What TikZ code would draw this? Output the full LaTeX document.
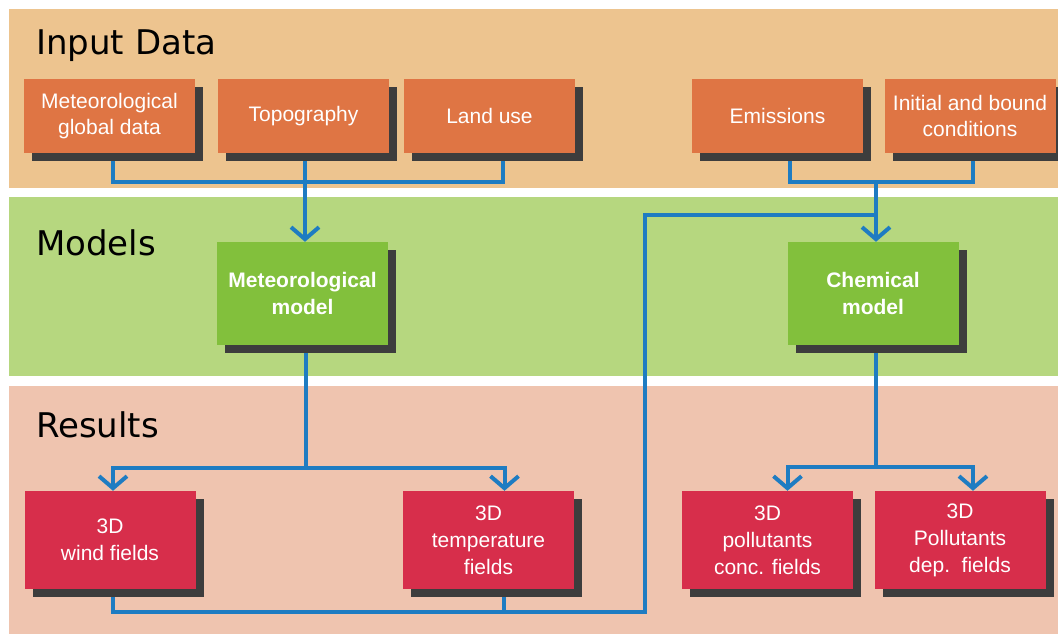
\documentclass[tikz,border=0pt]{standalone}
\usepackage{fontspec}
\setmainfont{Liberation Sans}
\newfontfamily\headfont{DejaVu Sans}
\usetikzlibrary{arrows.meta,shadows,backgrounds}

\definecolor{inband}{RGB}{237,196,143}
\definecolor{modband}{RGB}{182,215,127}
\definecolor{resband}{RGB}{239,196,175}
\definecolor{inorange}{RGB}{223,117,68}
\definecolor{modgreen}{RGB}{130,192,60}
\definecolor{resred}{RGB}{215,46,75}
\definecolor{boxshadow}{RGB}{61,61,61}
\definecolor{linkblue}{RGB}{30,124,194}

\tikzset{
  box/.style={inner sep=0pt, align=center, text=white, font=\fontsize{21}{26}\selectfont,
    general shadow={fill=boxshadow, shadow xshift=8pt, shadow yshift=-8pt}},
  inbox/.style={box, fill=inorange, minimum width=171pt, minimum height=74pt},
  modbox/.style={box, fill=modgreen, minimum width=171pt, minimum height=103pt,
    font=\fontsize{21}{27}\selectfont\bfseries},
  resbox/.style={box, fill=resred, minimum width=171pt, minimum height=98pt,
    font=\fontsize{21}{27}\selectfont},
  link/.style={draw=linkblue, line width=4pt, >={Straight Barb[length=12pt,width=28pt]}},
  head/.style={anchor=base west, inner sep=0pt, font=\headfont\fontsize{34}{40}\selectfont},
}

\begin{document}
\begin{tikzpicture}[x=1pt,y=-1pt]
\useasboundingbox (0,0) rectangle (1058,634);
% bands
\begin{scope}[on background layer]
  \fill[inband] (9,9) rectangle (1058,188);
  \fill[modband] (9,197) rectangle (1058,376);
  \fill[resband] (9,386) rectangle (1058,634);
\end{scope}
% headings
\foreach \y/\n/\t in {55/hinput/Input Data, 255/hmodels/Models, 437/hresults/Results}
  \node[head] (\n) at (36,\y) {\t};
% boxes
\foreach \x/\n/\t in {109.5/metdata/{Meteorological\\global data}, 303.5/topo/Topography, 489.5/landuse/Land use, 777.5/emis/Emissions, 970/bound/{Initial and bound\\conditions}}
  \node[inbox] (\n) at (\x,116) {\t};
\foreach \x/\n/\t in {302.5/metmodel/{Meteorological\\model}, 873/chemmodel/{Chemical\\model}}
  \node[modbox] (\n) at (\x,293.5) {\t};
\foreach \x/\n/\t in {110/wind/{3D\\wind fields}, 488.5/temp/{3D\\temperature\\fields}, 767.5/conc/{3D\\pollutants\\conc. fields}, 960/dep/{3D\\Pollutants\\dep.\ \ fields}}
  \node[resbox] (\n) at (\x,540) {\t};
% connectors
\coordinate (fbturn) at (645,612);
\coordinate (fbtop) at (645,215);
\begin{scope}[on background layer]
  \draw[link] ([xshift=3.5pt]metdata.south) -- ++(0,29) -| ([xshift=13.5pt]landuse.south);
  \draw[link,->] ([xshift=1.5pt]topo.south) -- ([xshift=1.5pt]topo.south |- metmodel.north);
  \draw[link] ([xshift=12.5pt]emis.south) -- ++(0,29) coordinate (injoin) -| ([xshift=3pt]bound.south);
  \draw[link,->] ([xshift=3pt]injoin -| chemmodel.north) -- ([xshift=3pt]chemmodel.north);
  \draw[link] ([xshift=3pt]metmodel.south) -- ++(0,123) coordinate (metjoin);
  \draw[link,->] (metjoin) -| ([xshift=3pt]wind.north);
  \draw[link,->] (metjoin) -| ([xshift=16pt]temp.north);
  \draw[link] ([xshift=3pt]chemmodel.south) -- ++(0,122) coordinate (chemjoin);
  \draw[link,->] (chemjoin) -| ([xshift=20pt]conc.north);
  \draw[link,->] (chemjoin) -| ([xshift=13pt]dep.north);
  % feedback of the fields to the chemical model
  \draw[link] ([xshift=3pt]wind.south) |- (fbturn) -- (fbtop) -- ([xshift=3pt]fbtop -| chemmodel.north);
  \draw[link] ([xshift=15pt]temp.south) -- ([xshift=15pt]temp.south |- fbturn);
\end{scope}
\end{tikzpicture}
\end{document}
